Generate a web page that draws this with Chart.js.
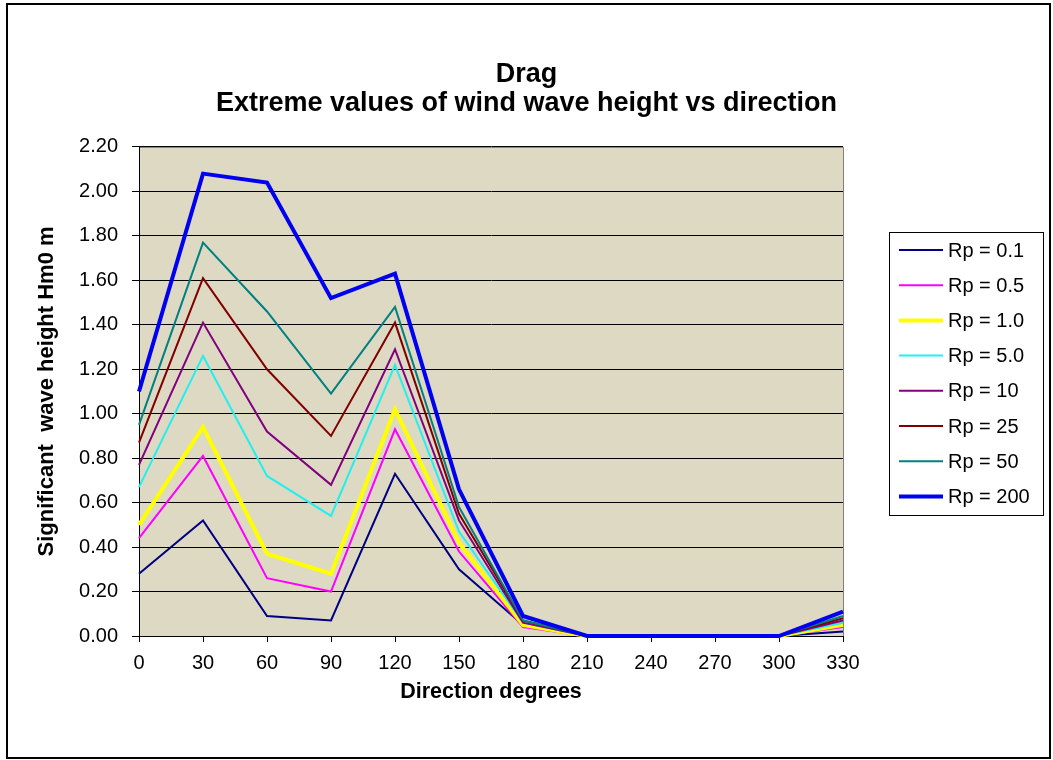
<!DOCTYPE html>
<html>
<head>
<meta charset="utf-8">
<script src="https://cdn.jsdelivr.net/npm/chart.js@4"></script>
<style>
  html, body { margin: 0; padding: 0; background: #fff; }
  #wrap { width: 1053px; height: 760px; }
</style>
</head>
<body>
<div id="wrap"><canvas id="c" width="1053" height="760"></canvas></div>
<script>
// Wave direction (degrees) along the x axis
const directions = ['0', '30', '60', '90', '120', '150', '180', '210', '240', '270', '300', '330'];

// Return-period series names
const seriesNames = ['Rp = 0.1', 'Rp = 0.5', 'Rp = 1.0', 'Rp = 5.0', 'Rp = 10', 'Rp = 25', 'Rp = 50', 'Rp = 200'];

// Significant wave height Hm0 (m) per direction, one array per return period
const hm0Rp0_1 = [0.28, 0.52, 0.09, 0.07, 0.73, 0.30, 0.05, 0, 0, 0, 0, 0.02];
const hm0Rp0_5 = [0.44, 0.81, 0.26, 0.20, 0.93, 0.38, 0.04, 0, 0, 0, 0, 0.04];
const hm0Rp1   = [0.50, 0.94, 0.37, 0.28, 1.02, 0.42, 0.05, 0, 0, 0, 0, 0.05];
const hm0Rp5   = [0.67, 1.26, 0.72, 0.54, 1.22, 0.47, 0.06, 0, 0, 0, 0, 0.06];
const hm0Rp10  = [0.77, 1.41, 0.92, 0.68, 1.29, 0.52, 0.06, 0, 0, 0, 0, 0.07];
const hm0Rp25  = [0.87, 1.61, 1.20, 0.90, 1.41, 0.55, 0.07, 0, 0, 0, 0, 0.08];
const hm0Rp50  = [0.95, 1.77, 1.46, 1.09, 1.48, 0.58, 0.07, 0, 0, 0, 0, 0.09];
const hm0Rp200 = [1.10, 2.08, 2.04, 1.52, 1.63, 0.66, 0.09, 0, 0, 0, 0, 0.11];

const seriesValues = [hm0Rp0_1, hm0Rp0_5, hm0Rp1, hm0Rp5, hm0Rp10, hm0Rp25, hm0Rp50, hm0Rp200];

// Line styling per series
const seriesColors = ['#000080', '#FF00FF', '#FFFF00', '#22F0F0', '#800080', '#800000', '#008080', '#0000F0'];
const seriesWidths = [2, 2, 4, 2, 2, 2, 2, 4];

const FONT = "'Liberation Sans', Arial, sans-serif";

// Page background, plot fill, plot frame and outer border
const framePlugin = {
  id: 'frame',
  beforeDraw(chart) {
    const { ctx, chartArea: a } = chart;
    ctx.save();
    ctx.fillStyle = '#ffffff';
    ctx.fillRect(0, 0, chart.width, chart.height);
    ctx.fillStyle = '#DDD9C3';
    ctx.fillRect(a.left, a.top, a.right - a.left, a.bottom - a.top);
    ctx.restore();
  },
  beforeDatasetsDraw(chart) {
    const { ctx, chartArea: a } = chart;
    ctx.save();
    ctx.strokeStyle = '#808080';
    ctx.lineWidth = 1;
    ctx.beginPath();
    ctx.moveTo(a.left + 1, a.top + 0.5);
    ctx.lineTo(a.right + 0.5, a.top + 0.5);
    ctx.lineTo(a.right + 0.5, a.bottom);
    ctx.stroke();
    ctx.restore();
  },
  afterDraw(chart) {
    const { ctx } = chart;
    ctx.save();
    ctx.strokeStyle = '#000';
    ctx.lineWidth = 2;
    ctx.strokeRect(7, 4, 1043, 754);
    ctx.restore();
  }
};

// Boxed legend to the right of the plot
const legendBoxPlugin = {
  id: 'legendBox',
  afterDraw(chart) {
    const { ctx } = chart;
    const boxX = 889, boxY = 232, boxW = 154, boxH = 283;
    const rowH = 35.2, firstRow = 250;
    ctx.save();
    ctx.fillStyle = '#fff';
    ctx.fillRect(boxX, boxY, boxW, boxH);
    ctx.strokeStyle = '#000';
    ctx.lineWidth = 1;
    ctx.strokeRect(boxX + 0.5, boxY + 0.5, boxW, boxH);
    ctx.font = '20px ' + FONT;
    ctx.textBaseline = 'middle';
    ctx.textAlign = 'left';
    chart.data.datasets.forEach((ds, i) => {
      const y = firstRow + i * rowH;
      ctx.strokeStyle = ds.borderColor;
      ctx.lineWidth = ds.borderWidth;
      ctx.beginPath();
      ctx.moveTo(899, y);
      ctx.lineTo(943, y);
      ctx.stroke();
      ctx.fillStyle = '#000';
      ctx.fillText(ds.label, 948, y + 1);
    });
    ctx.restore();
  }
};

new Chart(document.getElementById('c'), {
  type: 'line',
  data: {
    labels: directions,
    datasets: seriesValues.map((vals, i) => ({
      label: seriesNames[i],
      data: vals,
      borderColor: seriesColors[i],
      backgroundColor: seriesColors[i],
      borderWidth: seriesWidths[i],
      pointRadius: 0,
      tension: 0,
      fill: false,
      clip: false,
      order: seriesValues.length - i
    }))
  },
  options: {
    responsive: false,
    animation: false,
    devicePixelRatio: 1,
    layout: { padding: 0 },
    plugins: {
      legend: { display: false },
      tooltip: { enabled: false },
      title: {
        display: true,
        text: ['Drag', 'Extreme values of wind wave height vs direction'],
        color: '#000',
        font: { family: FONT, size: 27, weight: 'bold', lineHeight: 1.04 },
        padding: { top: 61, bottom: 29.8 }
      }
    },
    scales: {
      x: {
        offset: false,
        grid: { drawOnChartArea: false, drawTicks: true, tickLength: 6, color: '#000' },
        border: { color: '#000', width: 1 },
        ticks: { color: '#000', font: { family: FONT, size: 20 }, padding: 9, maxRotation: 0, autoSkip: false },
        title: {
          display: true,
          text: 'Direction degrees',
          color: '#000',
          font: { family: FONT, size: 21.5, weight: 'bold' },
          padding: { top: 0, bottom: 55 }
        },
        afterFit(scale) { scale.height = 124; }
      },
      y: {
        min: 0,
        max: 2.2,
        ticks: {
          stepSize: 0.2,
          color: '#000',
          font: { family: FONT, size: 20 },
          padding: 14,
          callback: (v) => Number(v).toFixed(2)
        },
        grid: { color: '#000', lineWidth: 1, tickLength: 7 },
        border: { color: '#000', width: 1 },
        title: {
          display: true,
          text: 'Significant  wave height Hm0 m',
          color: '#000',
          font: { family: FONT, size: 22, weight: 'bold' },
          padding: { top: 34, bottom: 0 }
        },
        afterFit(scale) { scale.width = 139; }
      },
      // empty right-hand axis that reserves the legend column
      legendColumn: {
        position: 'right',
        display: true,
        grid: { display: false, drawTicks: false },
        border: { display: false },
        ticks: { display: false },
        afterFit(scale) { scale.width = 210; }
      }
    }
  },
  plugins: [framePlugin, legendBoxPlugin]
});
</script>
</body>
</html>
